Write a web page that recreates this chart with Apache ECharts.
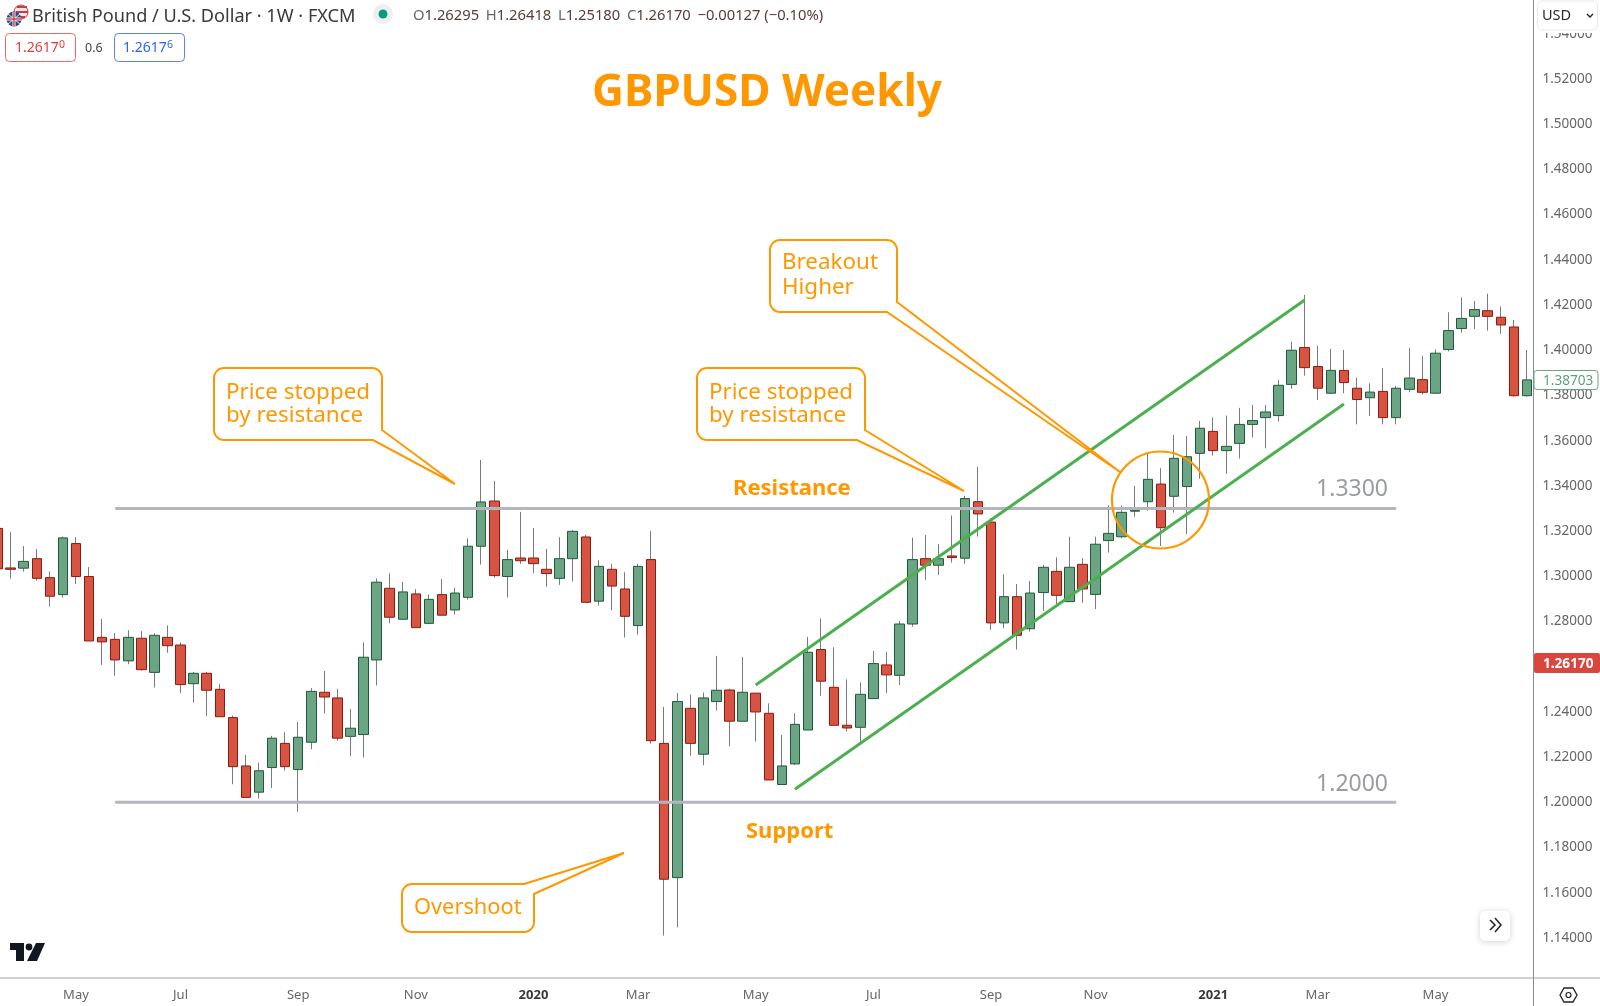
<!DOCTYPE html>
<html><head><meta charset="utf-8">
<style>html,body{margin:0;padding:0;background:#fff;overflow:hidden;width:1600px;height:1006px}#c{position:absolute;left:-9px;top:0;width:1609px;height:1006px}</style>
<script src="https://cdn.jsdelivr.net/npm/echarts@6/dist/echarts.min.js"></script>
</head><body><div id="c"></div>
<script>
const categories = [
'2019-03-25','2019-04-01','2019-04-08','2019-04-15','2019-04-22','2019-04-29','2019-05-06','2019-05-13','2019-05-20','2019-05-27',
'2019-06-03','2019-06-10','2019-06-17','2019-06-24','2019-07-01','2019-07-08','2019-07-15','2019-07-22','2019-07-29','2019-08-05',
'2019-08-12','2019-08-19','2019-08-26','2019-09-02','2019-09-09','2019-09-16','2019-09-23','2019-09-30','2019-10-07','2019-10-14',
'2019-10-21','2019-10-28','2019-11-04','2019-11-11','2019-11-18','2019-11-25','2019-12-02','2019-12-09','2019-12-16','2019-12-23',
'2019-12-30','2020-01-06','2020-01-13','2020-01-20','2020-01-27','2020-02-03','2020-02-10','2020-02-17','2020-02-24','2020-03-02',
'2020-03-09','2020-03-16','2020-03-23','2020-03-30','2020-04-06','2020-04-13','2020-04-20','2020-04-27','2020-05-04','2020-05-11',
'2020-05-18','2020-05-25','2020-06-01','2020-06-08','2020-06-15','2020-06-22','2020-06-29','2020-07-06','2020-07-13','2020-07-20',
'2020-07-27','2020-08-03','2020-08-10','2020-08-17','2020-08-24','2020-08-31','2020-09-07','2020-09-14','2020-09-21','2020-09-28',
'2020-10-05','2020-10-12','2020-10-19','2020-10-26','2020-11-02','2020-11-09','2020-11-16','2020-11-23','2020-11-30','2020-12-07',
'2020-12-14','2020-12-21','2020-12-28','2021-01-04','2021-01-11','2021-01-18','2021-01-25','2021-02-01','2021-02-08','2021-02-15',
'2021-02-22','2021-03-01','2021-03-08','2021-03-15','2021-03-22','2021-03-29','2021-04-05','2021-04-12','2021-04-19','2021-04-26',
'2021-05-03','2021-05-10','2021-05-17','2021-05-24','2021-05-31','2021-06-07','2021-06-14','2021-06-21'];
const opens = [
1.3212,1.3037,1.3036,1.3078,1.2994,1.2919,1.3145,1.2999,1.2730,1.2721,
1.2626,1.2726,1.2575,1.2730,1.2696,1.2525,1.2571,1.2500,1.2375,1.2161,
1.2045,1.2154,1.2261,1.2145,1.2266,1.2487,1.2462,1.2292,1.2300,1.2630,
1.2947,1.2810,1.2922,1.2792,1.2919,1.2851,1.2907,1.3133,1.3333,1.2999,
1.3081,1.3081,1.3031,1.2991,1.3078,1.3174,1.2890,1.3031,1.2944,1.2782,
1.3074,1.2261,1.1667,1.2416,1.2213,1.2446,1.2497,1.2359,1.2483,1.2394,
1.2079,1.2170,1.2320,1.2676,1.2509,1.2341,1.2332,1.2459,1.2608,1.2562,
1.2789,1.3078,1.3049,1.3090,1.3080,1.3330,1.3240,1.2794,1.2910,1.2768,
1.2928,1.3022,1.2888,1.3053,1.2920,1.3158,1.3175,1.3288,1.3330,1.3408,
1.3354,1.3397,1.3544,1.3641,1.3556,1.3588,1.3672,1.3702,1.3711,1.3849,
1.4012,1.3928,1.3810,1.3911,1.3832,1.3790,1.3818,1.3702,1.3827,1.3870,
1.3810,1.4003,1.4096,1.4150,1.4175,1.4146,1.4103,1.3799];
const closes = [
1.3033,1.3031,1.3066,1.2991,1.2912,1.3170,1.2999,1.2714,1.2710,1.2630,
1.2730,1.2587,1.2739,1.2693,1.2521,1.2571,1.2496,1.2379,1.2158,1.2022,
1.2140,1.2284,1.2158,1.2288,1.2491,1.2466,1.2284,1.2328,1.2642,1.2974,
1.2819,1.2931,1.2773,1.2898,1.2828,1.2926,1.3133,1.3329,1.3003,1.3074,
1.3069,1.3056,1.3012,1.3078,1.3199,1.2885,1.3044,1.2957,1.2823,1.3044,
1.2273,1.1660,1.2446,1.2261,1.2462,1.2496,1.2359,1.2487,1.2400,1.2099,
1.2161,1.2345,1.2664,1.2536,1.2341,1.2329,1.2478,1.2614,1.2564,1.2789,
1.3074,1.3049,1.3078,1.3083,1.3344,1.3276,1.2794,1.2910,1.2739,1.2926,
1.3040,1.2916,1.3040,1.2944,1.3142,1.3190,1.3283,1.3292,1.3429,1.3215,
1.3522,1.3529,1.3655,1.3556,1.3575,1.3672,1.3689,1.3727,1.3845,1.4000,
1.3923,1.3832,1.3911,1.3857,1.3782,1.3815,1.3702,1.3832,1.3877,1.3814,
1.3987,1.4087,1.4141,1.4180,1.4150,1.4112,1.3799,1.3869];
const highs = [
1.3223,1.3196,1.3134,1.3121,1.3021,1.3176,1.3173,1.3041,1.2811,1.2749,
1.2761,1.2757,1.2748,1.2783,1.2707,1.2577,1.2577,1.2524,1.2384,1.2210,
1.2176,1.2294,1.2310,1.2356,1.2506,1.2581,1.2502,1.2413,1.2708,1.2991,
1.3013,1.2975,1.2943,1.2920,1.2988,1.2950,1.3168,1.3515,1.3422,1.3117,
1.3285,1.3214,1.3121,1.3173,1.3204,1.3183,1.3071,1.3055,1.3018,1.3055,
1.3201,1.2422,1.2484,1.2477,1.2486,1.2648,1.2503,1.2643,1.2483,1.2438,
1.2298,1.2394,1.2732,1.2814,1.2686,1.2544,1.2531,1.2670,1.2665,1.2802,
1.3171,1.3183,1.3143,1.3269,1.3356,1.3485,1.3257,1.3009,1.2966,1.2979,
1.3050,1.3084,1.3175,1.3080,1.3175,1.3314,1.3314,1.3400,1.3544,1.3478,
1.3625,1.3621,1.3687,1.3703,1.3711,1.3745,1.3758,1.3758,1.3869,1.4038,
1.4245,1.4019,1.4006,1.4001,1.3879,1.3854,1.3922,1.3842,1.4010,1.3975,
1.4004,1.4168,1.4234,1.4218,1.4250,1.4193,1.4134,1.4001];
const lows = [
1.3033,1.2990,1.3021,1.2981,1.2866,1.2906,1.2966,1.2714,1.2608,1.2561,
1.2611,1.2583,1.2508,1.2662,1.2483,1.2441,1.2382,1.2379,1.2080,1.2022,
1.2017,1.2064,1.2140,1.1959,1.2235,1.2394,1.2273,1.2205,1.2198,1.2517,
1.2792,1.2810,1.2773,1.2788,1.2828,1.2831,1.2897,1.3052,1.2994,1.2906,
1.3055,1.3013,1.2954,1.2962,1.2977,1.2885,1.2870,1.2851,1.2729,1.2742,
1.2260,1.1411,1.1447,1.2207,1.2164,1.2406,1.2248,1.2359,1.2269,1.2099,
1.2079,1.2165,1.2320,1.2472,1.2341,1.2314,1.2254,1.2459,1.2483,1.2519,
1.2777,1.2984,1.3006,1.3061,1.3056,1.3176,1.2763,1.2770,1.2676,1.2755,
1.2847,1.2876,1.2888,1.2883,1.2855,1.3105,1.3168,1.3264,1.3290,1.3134,
1.3282,1.3187,1.3432,1.3534,1.3454,1.3521,1.3614,1.3566,1.3684,1.3830,
1.3888,1.3780,1.3810,1.3810,1.3672,1.3709,1.3672,1.3672,1.3814,1.3805,
1.3810,1.3995,1.4078,1.4094,1.4087,1.4072,1.3795,1.3795];

const tickDates  = ['2019-05-06','2019-07-01','2019-09-02','2019-11-04','2020-01-06','2020-03-02','2020-05-04','2020-07-06','2020-09-07','2020-11-02','2021-01-04','2021-03-01','2021-05-03'];
const tickLabels = ['May','Jul','Sep','Nov','2020','Mar','May','Jul','Sep','Nov','2021','Mar','May'];
const yearLabels = ['2020','2021'];

const resistanceLine = [['2019-05-27',1.33],['2021-04-12',1.33]];
const supportLine    = [['2019-05-27',1.20],['2021-04-12',1.20]];
const channelUpper   = [['2020-05-04',1.2519],['2021-02-22',1.4222]];
const channelLower   = [['2020-05-25',1.2058],['2021-03-15',1.3762]];

const FONT = '"Noto Sans", sans-serif';
const ORANGE = '#ff9800';
const tickMap = {};
tickDates.forEach((d,i)=>{tickMap[d]=tickLabels[i];});

const bodyData = categories.map((_,i)=>[opens[i],closes[i],Math.min(opens[i],closes[i]),Math.max(opens[i],closes[i])]);
const wickData = categories.map((_,i)=>[opens[i],closes[i],lows[i],highs[i]]);

function arc(cx,cy,r,a0,a1){const p=[];for(let k=0;k<=8;k++){const a=(a0+(a1-a0)*k/8)*Math.PI/180;p.push([cx+r*Math.cos(a),cy+r*Math.sin(a)]);}return p;}
function calloutBR(l,t,r,b,tailY,tip,tailX){const R=10;return [[r,tailY],tip,[tailX,b],...arc(l+R,b-R,R,90,180),...arc(l+R,t+R,R,180,270),...arc(r-R,t+R,R,270,360)];}
function calloutTR(l,t,r,b,tailX,tip,tailY){const R=10;return [[tailX,t],tip,[r,tailY],...arc(r-R,b-R,R,0,90),...arc(l+R,b-R,R,90,180),...arc(l+R,t+R,R,180,270)];}
const polyStyle={fill:'transparent',stroke:ORANGE,lineWidth:2};
function poly(points){return {type:'polygon',z:100,shape:{points},style:polyStyle,silent:true};}
function txt(x,y,text,size,color,weight,align,extra){return {type:'text',z:110,x,y,silent:true,style:Object.assign({text,fontFamily:FONT,fontSize:size,fill:color,fontWeight:weight||'normal',align:align||'left',verticalAlign:'middle'},extra||{})};}
function line(x1,y1,x2,y2,color,w,z){return {type:'line',z:z||50,silent:true,shape:{x1,y1,x2,y2},style:{stroke:color,lineWidth:w||1}};}
function rect(x,y,w,h,r,fill,stroke,z,lw){return {type:'rect',z:z||60,silent:true,shape:{x,y,width:w,height:h,r},style:{fill,stroke:stroke||null,lineWidth:lw||1}};}

const graphics=[
  poly(calloutBR(214,368,382,440,430,[455,484],373)),
  poly(calloutBR(697,368,865,440,430,[964,491],857)),
  poly(calloutBR(770,240,897,312,302,[1120,472],887)),
  poly(calloutTR(402,884,534,932,524,[624,853],894)),
  {type:'circle',z:100,silent:true,shape:{cx:1160.5,cy:500,r:48.5},style:{fill:'transparent',stroke:ORANGE,lineWidth:2.2}},
  txt(226,392.5,'Price stopped',22.4,ORANGE), txt(226,416,'by resistance',22.4,ORANGE),
  txt(709,392.5,'Price stopped',22.4,ORANGE), txt(709,416,'by resistance',22.4,ORANGE),
  txt(782,263,'Breakout',22.4,ORANGE), txt(782,288,'Higher',22.4,ORANGE),
  txt(414,908,'Overshoot',21.8,ORANGE),
  txt(733,489,'Resistance',22,ORANGE,'bold'),
  txt(746,832,'Support',22,ORANGE,'bold'),
  txt(1388,489.5,'1.3300',23,'#9a9ca3','normal','right'),
  txt(1388,784,'1.2000',23,'#9a9ca3','normal','right'),
  line(0,978,1600,978,'#a3a3a3',1,40),
  line(1533.5,0,1533.5,1006,'#8c8c8c',1,40),
  {type:'circle',z:60,silent:true,shape:{cx:21,cy:12,r:7},style:{fill:'#e8e8f0',stroke:'#d23a3a',lineWidth:1}},
  line(17,7,27,7,'#d23a3a',2,61), line(16,12,28,12,'#d23a3a',2,61), line(18,17,25,17,'#d23a3a',2,61),
  {type:'circle',z:62,silent:true,shape:{cx:14,cy:19,r:7.5},style:{fill:'#2d4a8a'}},
  line(7,19,21,19,'#fff',3,63), line(14,12,14,26,'#fff',3,63), line(8,14,20,24,'#e8e8f0',1,63), line(20,14,8,24,'#e8e8f0',1,63),
  line(7,19,21,19,'#d23a3a',1.4,64), line(14,12,14,26,'#d23a3a',1.4,64),
  txt(32,16.5,'British Pound / U.S. Dollar \u00b7 1W \u00b7 FXCM',18.15,'#3a3a3a'),
  {type:'circle',z:60,silent:true,shape:{cx:383,cy:14,r:10},style:{fill:'#eef0f0'}},
  {type:'circle',z:61,silent:true,shape:{cx:383,cy:14,r:4.5},style:{fill:'#089981'}},
  {type:'text',z:110,x:413,y:16,silent:true,style:{text:'{l|O}{v|1.26295}  {l|H}{v|1.26418}  {l|L}{v|1.25180}  {l|C}{v|1.26170}  {v|\u22120.00127 (\u22120.10%)}',verticalAlign:'middle',rich:{l:{fontFamily:FONT,fontSize:14.75,fill:'#666'},v:{fontFamily:FONT,fontSize:14.75,fill:'#5a3a3a'}}}},
  rect(5.5,33.5,70,28,4,'#fff','#ef6a66'),
  txt(15,48.5,'1.2617',14,'#e63b36'), {type:'text',z:110,x:59,y:45,silent:true,style:{text:'0',fontFamily:FONT,fontSize:10.5,fill:'#e63b36',verticalAlign:'middle'}},
  txt(85,48.5,'0.6',12.5,'#444'),
  rect(114.5,33.5,70,28,4,'#fff','#5a82f0'),
  txt(123,48.5,'1.2617',14,'#2d62f0'), {type:'text',z:110,x:167,y:45,silent:true,style:{text:'6',fontFamily:FONT,fontSize:10.5,fill:'#2d62f0',verticalAlign:'middle'}},
  txt(767,93,'GBPUSD Weekly',44.1,ORANGE,'bold','center'),
  rect(1534,0,66,33,0,'#fff',null,70),
  rect(1537.5,1,60,29,5,'#fff','#e8e9ee',71),
  txt(1542,16,'USD',14.5,'#2a2a2a'),
  {type:'polyline',z:110,silent:true,shape:{points:[[1587,14],[1590,17],[1593,14]]},style:{fill:'none',stroke:'#222',lineWidth:1.4}},
  rect(1534,370.5,64,19,3,'#fff','#6ba583',70),
  txt(1543,381,'1.38703',13.6,'#5f9f7c'),
  rect(1534,653,66,20,2,'#d9463d',null,70),
  txt(1543,664,'1.26170',13.6,'#fff','bold'),
  {type:'rect',z:60,silent:true,shape:{x:1480,y:911,width:30,height:30,r:5},style:{fill:'#fff',shadowBlur:6,shadowColor:'rgba(0,0,0,0.18)',shadowOffsetY:1}},
  {type:'polyline',z:70,silent:true,shape:{points:[[1490,920],[1495,925],[1490,930]]},style:{fill:'none',stroke:'#222',lineWidth:1.5}},
  {type:'polyline',z:70,silent:true,shape:{points:[[1495,918],[1501,925],[1495,932]]},style:{fill:'none',stroke:'#222',lineWidth:1.5}},
  {type:'polygon',z:70,silent:true,shape:{points:[[1560,995],[1564,988],[1573,988],[1577,995],[1573,1002],[1564,1002]]},style:{fill:'none',stroke:'#222',lineWidth:1.3}},
  {type:'circle',z:70,silent:true,shape:{cx:1568.5,cy:995,r:2.5},style:{fill:'none',stroke:'#222',lineWidth:1.2}},
  {type:'polygon',z:70,silent:true,shape:{points:[[10,943],[24,943],[24,961],[16,961],[16,950],[10,950]]},style:{fill:'#131722'}},
  {type:'circle',z:70,silent:true,shape:{cx:29,cy:947,r:3.4},style:{fill:'#131722'}},
  {type:'polygon',z:70,silent:true,shape:{points:[[36,943],[45,943],[37,961],[27,961]]},style:{fill:'#131722'}}
];

const chart=echarts.init(document.getElementById('c'),null,{renderer:'canvas'});
const lineSeries=(name,data,color,w)=>({name,type:'line',data,symbol:'none',silent:true,z:5,animation:false,lineStyle:{color,width:w}});
chart.setOption({
  animation:false,
  backgroundColor:'#fff',
  grid:{left:0,width:1542.5,top:0,height:983.2,containLabel:false},
  xAxis:{type:'category',data:categories,boundaryGap:true,
    axisLine:{show:false},axisTick:{show:false},splitLine:{show:false},
    axisLabel:{margin:6,interval:(i,v)=>v in tickMap,hideOverlap:false,
      formatter:v=>{const t=tickMap[v]||'';return yearLabels.includes(t)?'{y|'+t+'}':'{m|'+t+'}';},
      rich:{m:{fontFamily:FONT,fontSize:13,color:'#666'},y:{fontFamily:FONT,fontSize:13,fontWeight:'bold',color:'#3a3a3a'}}}},
  yAxis:{type:'value',position:'right',min:1.12,max:1.55495,interval:0.02,
    axisLine:{show:false},axisTick:{show:false},splitLine:{show:false},
    axisLabel:{margin:9,fontFamily:FONT,fontSize:13.5,color:'#666',padding:[2,0,0,0],
      formatter:v=>(v<1.13||v>1.545)?'':v.toFixed(5)}},
  series:[
    {name:'Wicks',type:'candlestick',data:wickData,barWidth:1,silent:true,z:2,
     itemStyle:{color:'#7b7b7d',color0:'#7b7b7d',borderColor:'#7b7b7d',borderColor0:'#7b7b7d',borderWidth:1}},
    {name:'Bodies',type:'candlestick',data:bodyData,barWidth:10,silent:true,z:3,
     itemStyle:{color:'#6ba583',color0:'#d75442',borderColor:'#1f5a3a',borderColor0:'#8c1a10',borderWidth:1}},
    lineSeries('Resistance',resistanceLine,'#b4b6bf',3),
    lineSeries('Support',supportLine,'#b4b6bf',3),
    lineSeries('Channel upper',channelUpper,'#4caf50',3),
    lineSeries('Channel lower',channelLower,'#4caf50',3)
  ],
  graphic:{elements:[{type:'group',x:9,y:0,children:graphics}]}
});
</script></body></html>
